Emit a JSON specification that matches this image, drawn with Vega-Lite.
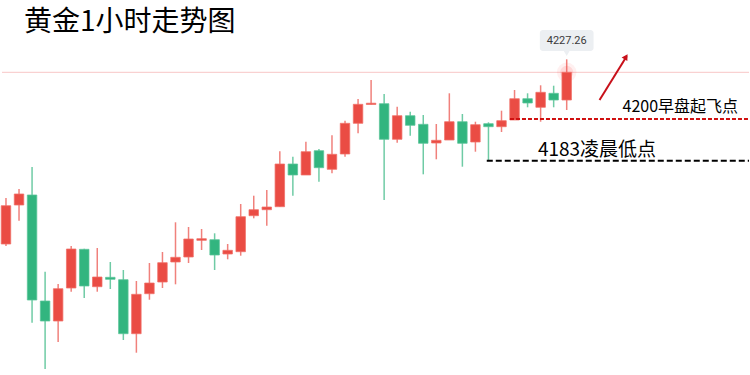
{
  "$schema": "https://vega.github.io/schema/vega-lite/v6.json",
  "width": 750,
  "height": 375,
  "autosize": {"type": "fit", "contains": "padding"},
  "padding": 0,
  "background": "white",
  "config": {"view": {"stroke": null}},
  "datasets": {
    "candles": [
      {"i": 1, "o": 4146.08, "c": 4162.91, "h": 4166.30, "l": 4145.20},
      {"i": 2, "o": 4163.22, "c": 4168.06, "h": 4170.25, "l": 4156.32},
      {"i": 3, "o": 4167.62, "c": 4121.46, "h": 4179.92, "l": 4111.48},
      {"i": 4, "o": 4121.02, "c": 4112.23, "h": 4133.90, "l": 4091.13},
      {"i": 5, "o": 4112.23, "c": 4126.43, "h": 4128.49, "l": 4103.00},
      {"i": 6, "o": 4126.74, "c": 4143.88, "h": 4145.20, "l": 4125.11},
      {"i": 7, "o": 4143.75, "c": 4127.62, "h": 4144.01, "l": 4122.34},
      {"i": 8, "o": 4127.31, "c": 4131.57, "h": 4144.32, "l": 4125.11},
      {"i": 9, "o": 4131.44, "c": 4130.56, "h": 4138.17, "l": 4126.30},
      {"i": 10, "o": 4130.39, "c": 4106.65, "h": 4134.65, "l": 4103.88},
      {"i": 11, "o": 4106.65, "c": 4123.97, "h": 4129.81, "l": 4098.30},
      {"i": 12, "o": 4124.23, "c": 4128.93, "h": 4137.73, "l": 4121.59},
      {"i": 13, "o": 4129.37, "c": 4137.86, "h": 4142.56, "l": 4126.74},
      {"i": 14, "o": 4138.17, "c": 4140.23, "h": 4155.62, "l": 4128.36},
      {"i": 15, "o": 4140.36, "c": 4148.28, "h": 4153.55, "l": 4137.73},
      {"i": 16, "o": 4147.70, "c": 4148.41, "h": 4152.67, "l": 4143.44},
      {"i": 17, "o": 4147.97, "c": 4141.24, "h": 4150.78, "l": 4134.65},
      {"i": 18, "o": 4141.68, "c": 4143.31, "h": 4146.08, "l": 4139.35},
      {"i": 19, "o": 4142.69, "c": 4158.08, "h": 4163.66, "l": 4140.94},
      {"i": 20, "o": 4158.52, "c": 4161.15, "h": 4167.31, "l": 4157.37},
      {"i": 21, "o": 4161.15, "c": 4162.34, "h": 4169.81, "l": 4154.12},
      {"i": 22, "o": 4162.47, "c": 4181.24, "h": 4186.82, "l": 4162.47},
      {"i": 23, "o": 4181.24, "c": 4176.41, "h": 4184.45, "l": 4167.31},
      {"i": 24, "o": 4176.41, "c": 4186.65, "h": 4191.04, "l": 4176.41},
      {"i": 25, "o": 4187.09, "c": 4179.62, "h": 4187.84, "l": 4173.46},
      {"i": 26, "o": 4178.91, "c": 4185.51, "h": 4193.86, "l": 4177.15},
      {"i": 27, "o": 4185.64, "c": 4199.13, "h": 4200.28, "l": 4184.45},
      {"i": 28, "o": 4199.13, "c": 4207.48, "h": 4209.81, "l": 4194.74},
      {"i": 29, "o": 4207.40, "c": 4207.97, "h": 4218.17, "l": 4207.40},
      {"i": 30, "o": 4207.75, "c": 4192.10, "h": 4212.01, "l": 4165.42},
      {"i": 31, "o": 4192.10, "c": 4202.47, "h": 4206.43, "l": 4190.61},
      {"i": 32, "o": 4202.47, "c": 4198.25, "h": 4204.23, "l": 4193.68},
      {"i": 33, "o": 4198.69, "c": 4190.34, "h": 4202.78, "l": 4176.71},
      {"i": 34, "o": 4190.47, "c": 4191.66, "h": 4198.82, "l": 4183.31},
      {"i": 35, "o": 4191.79, "c": 4199.83, "h": 4212.32, "l": 4191.79},
      {"i": 36, "o": 4199.83, "c": 4190.34, "h": 4203.22, "l": 4180.06},
      {"i": 37, "o": 4190.91, "c": 4198.52, "h": 4199.83, "l": 4186.65},
      {"i": 38, "o": 4198.96, "c": 4197.64, "h": 4199.57, "l": 4183.00},
      {"i": 39, "o": 4197.64, "c": 4200.28, "h": 4204.67, "l": 4195.31},
      {"i": 40, "o": 4200.58, "c": 4209.95, "h": 4213.77, "l": 4200.58},
      {"i": 41, "o": 4209.95, "c": 4208.06, "h": 4212.32, "l": 4206.17},
      {"i": 42, "o": 4206.17, "c": 4212.76, "h": 4215.84, "l": 4199.83},
      {"i": 43, "o": 4212.32, "c": 4209.37, "h": 4215.66, "l": 4206.17},
      {"i": 44, "o": 4209.37, "c": 4221.55, "h": 4227.26, "l": 4204.98}
    ]
  },
  "encoding": {
    "x": {"field": "i", "type": "quantitative", "scale": {"domain": [0.6945, 57.98], "nice": false, "zero": false, "padding": 0}, "axis": null},
    "y": {"field": "p", "type": "quantitative", "scale": {"domain": [4088.5, 4253.33], "nice": false, "zero": false, "padding": 0}, "axis": null}
  },
  "layer": [
    {
      "data": {"values": [{"p": 4221.55}]},
      "mark": {"type": "rule", "color": "#f8c6c6", "strokeWidth": 1},
      "encoding": {"x": null, "y": {"field": "p", "type": "quantitative"}}
    },
    {
      "data": {"values": [{"i": 44, "p": 4221.55}]},
      "mark": {"type": "point", "shape": "circle", "filled": true, "size": 380, "color": "#ff4040", "opacity": 0.08}
    },
    {
      "data": {"values": [{"i": 44, "p": 4221.55}]},
      "mark": {"type": "point", "shape": "circle", "filled": true, "size": 170, "color": "#ff3030", "opacity": 0.12}
    },
    {
      "data": {"name": "candles"},
      "mark": {"type": "rule", "strokeWidth": 1.5, "opacity": 0.7},
      "encoding": {
        "y": {"field": "l", "type": "quantitative"},
        "y2": {"field": "h"},
        "color": {"condition": {"test": "datum.c >= datum.o", "value": "#ea4c44"}, "value": "#32b57f"}
      }
    },
    {
      "data": {"name": "candles"},
      "mark": {"type": "bar", "width": 9.5, "strokeWidth": 1, "strokeOpacity": 0.75},
      "encoding": {
        "y": {"field": "o", "type": "quantitative"},
        "y2": {"field": "c"},
        "fill": {"condition": {"test": "datum.c >= datum.o", "value": "#ea4c44"}, "value": "#32b57f"},
        "stroke": {"condition": {"test": "datum.c >= datum.o", "value": "#f07068"}, "value": "#5cc49a"}
      }
    },
    {
      "data": {"values": [{"i": 39.65, "i2": 57.98, "p": 4201.0}]},
      "mark": {"type": "rule", "color": "#d01010", "strokeWidth": 2, "strokeDash": [4, 2]},
      "encoding": {"x2": {"field": "i2"}}
    },
    {
      "data": {"values": [{"i": 37.87, "i2": 57.98, "p": 4182.69}]},
      "mark": {"type": "rule", "color": "#000000", "strokeWidth": 2, "strokeDash": [6, 3]},
      "encoding": {"x2": {"field": "i2"}}
    },
    {
      "data": {"values": [{"i": 46.52, "i2": 48.6, "p": 4209.37, "p2": 4228.6}]},
      "mark": {"type": "rule", "color": "#c8101a", "strokeWidth": 2},
      "encoding": {"x2": {"field": "i2"}, "y2": {"field": "p2"}}
    },
    {
      "data": {"values": [{"i": 48.55, "p": 4228.4}]},
      "mark": {"type": "point", "shape": "triangle-up", "filled": true, "size": 45, "angle": 32, "color": "#c8101a", "opacity": 1}
    },
    {
      "data": {"values": [{"i": 41.94, "i2": 46.06, "p": 4240.14, "p2": 4230.91}]},
      "mark": {"type": "rect", "fill": "#eceff2", "cornerRadius": 3},
      "encoding": {"x2": {"field": "i2"}, "y2": {"field": "p2"}}
    },
    {
      "data": {"values": [{"i": 44, "p": 4229.9}]},
      "mark": {"type": "point", "shape": "triangle-down", "filled": true, "size": 40, "color": "#eceff2", "opacity": 1}
    },
    {
      "data": {"values": [{"i": 44, "p": 4235.5, "label": "4227.26"}]},
      "mark": {"type": "text", "align": "center", "baseline": "middle", "fontSize": 11, "font": "Roboto", "color": "#3a3a3a"},
      "encoding": {"text": {"field": "label"}}
    },
    {
      "data": {"values": [{"i": 48.28, "p": 4206.4, "label": "4200早盘起飞点"}]},
      "mark": {"type": "text", "align": "left", "baseline": "middle", "fontSize": 16, "font": "Noto Sans CJK SC", "color": "#000000"},
      "encoding": {"text": {"field": "label"}}
    },
    {
      "data": {"values": [{"i": 41.79, "p": 4187.3, "label": "4183凌晨低点"}]},
      "mark": {"type": "text", "align": "left", "baseline": "middle", "fontSize": 19, "font": "Noto Sans CJK SC", "color": "#000000"},
      "encoding": {"text": {"field": "label"}}
    },
    {
      "data": {"values": [{"i": 2.375, "p": 4243.2, "label": "黄金1小时走势图"}]},
      "mark": {"type": "text", "align": "left", "baseline": "middle", "fontSize": 28, "font": "Noto Sans CJK SC", "color": "#000000"},
      "encoding": {"text": {"field": "label"}}
    }
  ]
}
